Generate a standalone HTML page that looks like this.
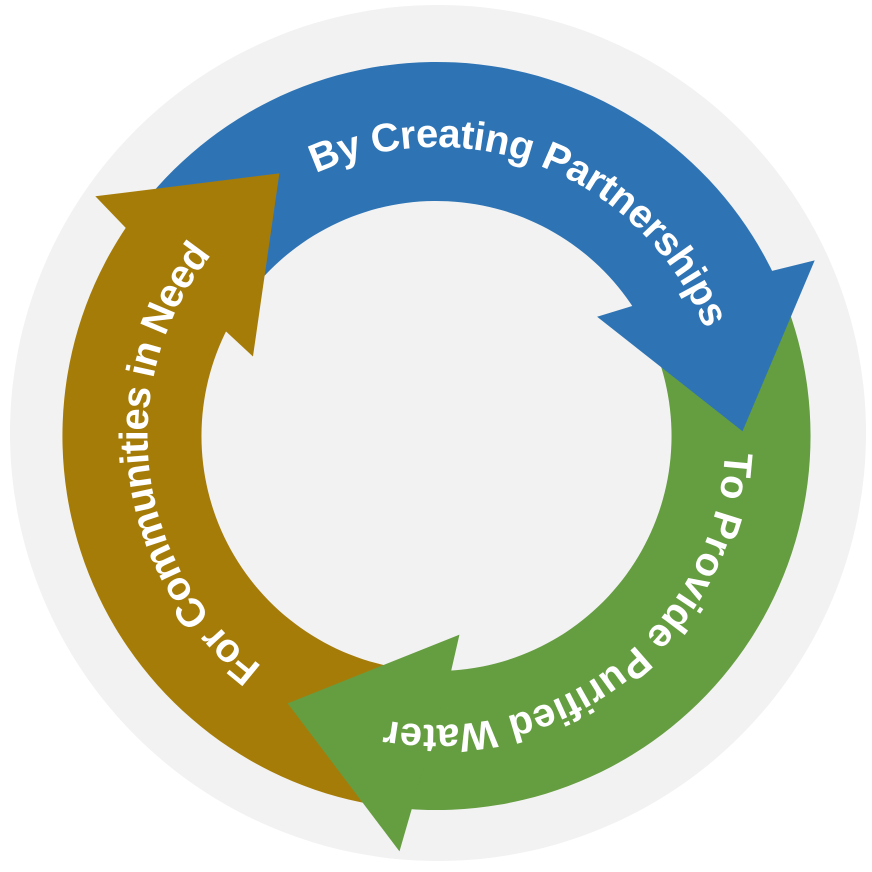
<!DOCTYPE html>
<html>
<head>
<meta charset="utf-8">
<style>
  html, body { margin: 0; padding: 0; background: #ffffff; width: 872px; height: 872px; overflow: hidden; }
  #wrap { position: absolute; left: 0; top: 0; width: 872px; height: 872px; overflow: hidden; }
  svg { position: absolute; left: 0; top: 0; display: block; overflow: hidden; }
  .t { font-family: "Liberation Sans", "DejaVu Sans", sans-serif; font-weight: bold; font-size: 40px; fill: #ffffff; }
</style>
</head>
<body>
<div id="wrap">
<svg width="872" height="872" viewBox="0 0 872 872" xmlns="http://www.w3.org/2000/svg" xmlns:xlink="http://www.w3.org/1999/xlink">
  <defs>
    <path id="tp" d="M 289,0 A 289 289 0 1 1 -289,0 A 289 289 0 1 1 289,0" fill="none"/>
  </defs>
  <rect x="0" y="0" width="872" height="872" fill="#ffffff"/>
  <circle cx="438" cy="433" r="428" fill="#f2f2f2"/>
  <g transform="translate(436.5,436)">
    <!-- bodies -->
    <path fill="#2E74B5" d="M -294.7,-230.3 A 374 374 0 0 1 339.0,-158.1 L 198.2,-126.3 A 235 235 0 0 0 -185.2,-144.7 Z"/>
    <path fill="#659D41" transform="rotate(120)" d="M -294.7,-230.3 A 374 374 0 0 1 339.0,-158.1 L 198.2,-126.3 A 235 235 0 0 0 -185.2,-144.7 Z"/>
    <path fill="#A67C09" transform="rotate(240)" d="M -294.7,-230.3 A 374 374 0 0 1 339.0,-158.1 L 198.2,-126.3 A 235 235 0 0 0 -185.2,-144.7 Z"/>

    <!-- heads -->
    <path fill="#2E74B5" d="M 335.6,-165.1 L 378.2,-175.6 L 306.0,-4.8 L 160.6,-119.2 L 195.7,-130.0 Z"/>
    <path fill="#659D41" transform="rotate(120)" d="M 335.6,-165.1 L 378.2,-175.6 L 306.0,-4.8 L 160.6,-119.2 L 195.7,-130.0 Z"/>
    <path fill="#A67C09" transform="rotate(240)" d="M 335.6,-165.1 L 378.2,-175.6 L 306.0,-4.8 L 160.6,-119.2 L 195.7,-130.0 Z"/>

    <!-- labels -->
    <text class="t" style="letter-spacing:-0.5px">
      <textPath xlink:href="#tp" href="#tp" startOffset="81.04%" text-anchor="middle">By Creating Partnerships</textPath>
    </text>
    <text class="t" style="letter-spacing:0.2px">
      <textPath xlink:href="#tp" href="#tp" startOffset="14.36%" text-anchor="middle">To Provide Purified Water</textPath>
    </text>
    <text class="t" style="letter-spacing:-1px">
      <textPath xlink:href="#tp" href="#tp" startOffset="48.03%" text-anchor="middle">For Communities in Need</textPath>
    </text>
  </g>
</svg>
</div>
</body>
</html>
